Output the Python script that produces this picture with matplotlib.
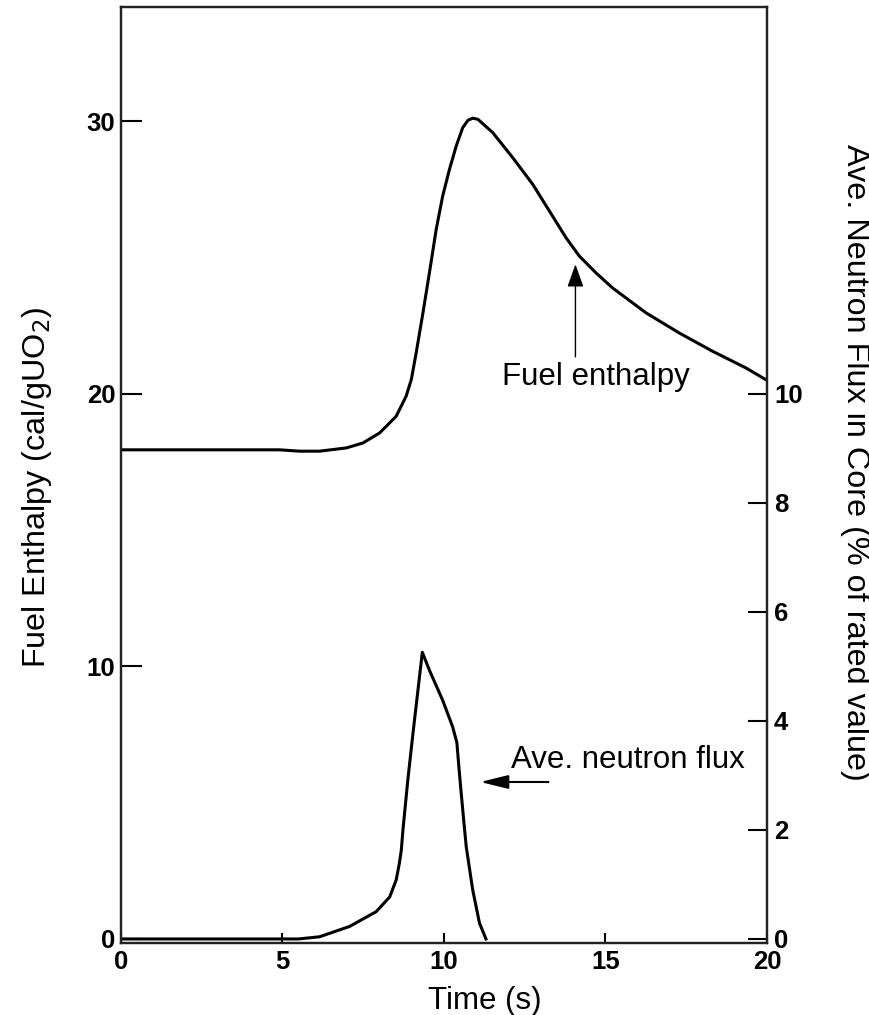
import matplotlib
matplotlib.use("Agg")
import matplotlib.pyplot as plt
from matplotlib import font_manager

plt.rcParams['font.family'] = ['Liberation Sans', 'DejaVu Sans']

# Fuel enthalpy (cal/gUO2) vs time (s)
enth_t = [0, 4.91, 5.53, 6.15, 6.98, 7.49, 8.01, 8.52, 8.83, 8.99, 9.14, 9.35,
          9.55, 9.76, 9.96, 10.17, 10.38, 10.58, 10.74, 10.89, 11.05, 11.51,
          12.13, 12.75, 13.36, 13.78, 14.19, 14.70, 15.22, 16.25, 17.28, 18.31,
          19.34, 20.0]
enth_v = [17.95, 17.95, 17.9, 17.9, 18.02, 18.2, 18.57, 19.18, 19.92, 20.53,
          21.51, 22.98, 24.45, 26.04, 27.26, 28.24, 29.1, 29.77, 30.04, 30.12,
          30.08, 29.59, 28.67, 27.69, 26.53, 25.73, 25.06, 24.45, 23.89, 22.98,
          22.24, 21.57, 20.96, 20.5]

# Average neutron flux (% of rated value) vs time (s)
flux_t = [0, 5.5, 6.15, 7.08, 7.90, 8.32, 8.52, 8.62, 8.68, 8.73, 8.88, 9.04,
          9.33, 9.55, 9.96, 10.27, 10.40, 10.47, 10.53, 10.63, 10.69, 10.89,
          11.10, 11.30]
flux_v = [0, 0, 0.04, 0.23, 0.50, 0.77, 1.08, 1.39, 1.63, 2.0, 2.91, 3.77,
          5.26, 4.93, 4.38, 3.89, 3.6, 3.1, 2.7, 2.06, 1.69, 0.90, 0.29, 0]

x_ticks = [0, 5, 10, 15, 20]
left_ticks = [0, 10, 20, 30]
right_ticks = [0, 2, 4, 6, 8, 10]

names = {f.name for f in font_manager.fontManager.ttflist}
tick_family = ['Liberation Sans Narrow'] if 'Liberation Sans Narrow' in names else ['Liberation Sans']

fig = plt.figure(figsize=(8.7, 10.15), dpi=100)
ax = fig.add_axes([0.139, 0.0709, 0.7426, 0.9222])
ax2 = ax.twinx()

ax.plot(enth_t, enth_v, color='black', lw=2.2, solid_joinstyle='round')
ax2.plot(flux_t, flux_v, color='black', lw=2.2, solid_joinstyle='round')

ax.set_xlim(0, 20)
ax.set_ylim(-0.15, 34.2)
ax2.set_ylim(-0.075, 17.1)

ax.set_xticks(x_ticks)
ax.set_yticks(left_ticks)
ax2.set_yticks(right_ticks)

ax.tick_params(axis='x', direction='in', length=7, width=1.5, pad=5)
ax.tick_params(axis='y', direction='in', length=15, width=1.5, pad=4)
ax2.tick_params(axis='y', direction='in', length=14, width=1.5, pad=5)
for lab in ax.get_xticklabels() + ax.get_yticklabels() + ax2.get_yticklabels():
    lab.set_fontfamily(tick_family)
    lab.set_fontweight('bold')
    lab.set_fontsize(18.5)

for a in (ax, ax2):
    for s in a.spines.values():
        s.set_linewidth(1.6)
        s.set_color('#222222')

ax.set_xlabel('Time (s)', fontsize=22.5, va='top', ha='center')
ax.xaxis.set_label_coords(0.563, -0.046)
ax.set_ylabel('Fuel Enthalpy (cal/gUO$_2$)', fontsize=23.3, va='center', ha='center')
ax.yaxis.set_label_coords(-0.130, 0.487)
ax2.set_ylabel('Ave. Neutron Flux in Core (% of rated value)', fontsize=23.3,
               rotation=-90, va='center', ha='center')
ax2.yaxis.set_label_coords(1.136, 0.513)

ax.annotate('', xy=(14.07, 24.86), xytext=(14.07, 21.26),
            arrowprops=dict(arrowstyle='-|>,head_length=1.4,head_width=0.5',
                            color='black', lw=1.0))
ax.text(14.71, 20.64, 'Fuel enthalpy', fontsize=22.5, ha='center', va='center')

ax2.annotate('', xy=(11.04, 2.88), xytext=(13.32, 2.88),
             arrowprops=dict(arrowstyle='-|>,head_length=1.7,head_width=0.42',
                             color='#888888', lw=1.5, ec='black', fc='black'))
ax2.text(15.69, 3.28, 'Ave. neutron flux', fontsize=22.5, ha='center', va='center')

fig.savefig('out.png', dpi=100)
